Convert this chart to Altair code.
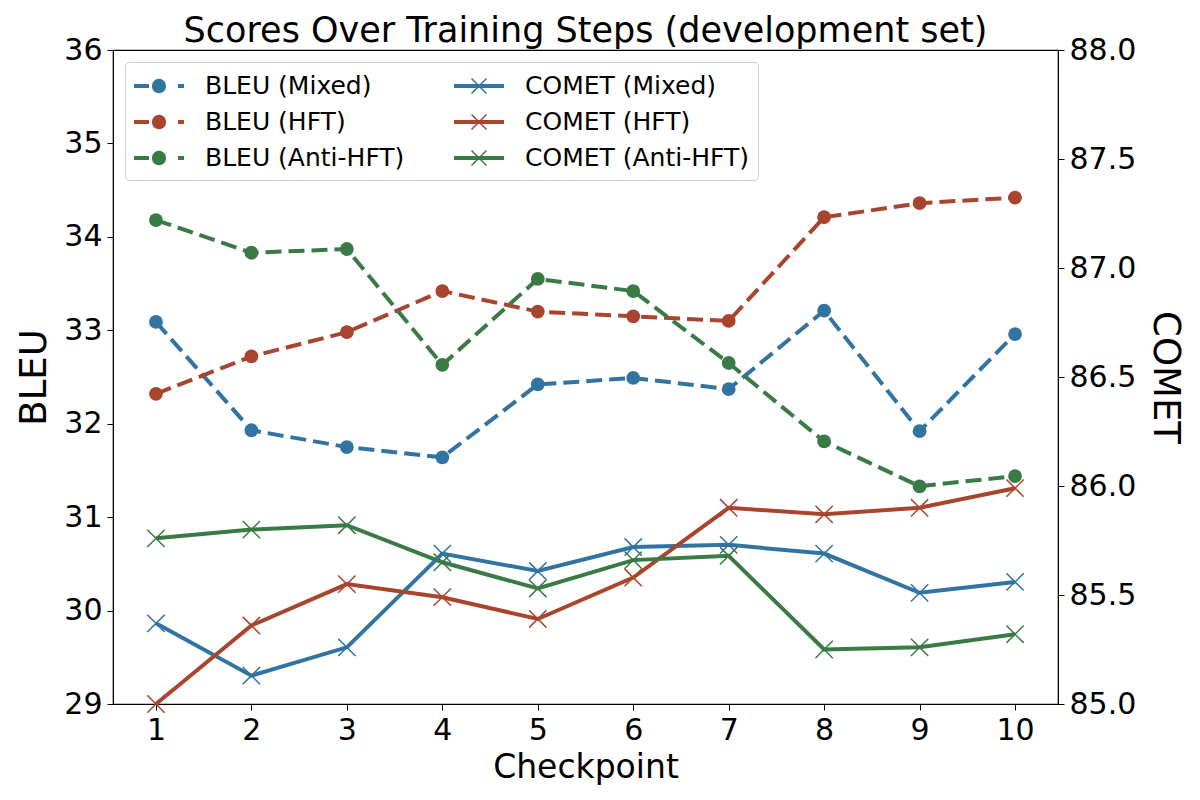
import altair as alt
import pandas as pd

checkpoints = [1, 2, 3, 4, 5, 6, 7, 8, 9, 10]

bleu_mixed = [33.09, 31.93, 31.75, 31.64, 32.42, 32.49, 32.37, 33.21, 31.92, 32.96]
bleu_hft = [32.32, 32.72, 32.98, 33.42, 33.20, 33.15, 33.10, 34.21, 34.36, 34.42]
bleu_anti = [34.18, 33.83, 33.87, 32.63, 33.55, 33.42, 32.65, 31.81, 31.33, 31.44]

comet_mixed = [85.37, 85.13, 85.26, 85.69, 85.61, 85.72, 85.73, 85.69, 85.51, 85.56]
comet_hft = [85.00, 85.36, 85.55, 85.49, 85.39, 85.58, 85.90, 85.87, 85.90, 85.99]
comet_anti = [85.76, 85.80, 85.82, 85.65, 85.53, 85.66, 85.68, 85.25, 85.26, 85.32]

bleu_names = ["BLEU (Mixed)", "BLEU (HFT)", "BLEU (Anti-HFT)"]
comet_names = ["COMET (Mixed)", "COMET (HFT)", "COMET (Anti-HFT)"]
legend_order = bleu_names + comet_names

BLUE, RED, GREEN = "#3274a1", "#a9452f", "#3a7a44"
series_colors = {"BLEU (Mixed)": BLUE, "BLEU (HFT)": RED, "BLEU (Anti-HFT)": GREEN,
                 "COMET (Mixed)": BLUE, "COMET (HFT)": RED, "COMET (Anti-HFT)": GREEN}

rows_b, rows_c = [], []
for name, vals in zip(bleu_names, [bleu_mixed, bleu_hft, bleu_anti]):
    for c, v in zip(checkpoints, vals):
        rows_b.append({"checkpoint": c, "value": v, "series": name})
for name, vals in zip(comet_names, [comet_mixed, comet_hft, comet_anti]):
    for c, v in zip(checkpoints, vals):
        rows_c.append({"checkpoint": c, "value": v, "series": name})
df_b = pd.DataFrame(rows_b)
df_c = pd.DataFrame(rows_c)

# line colour scale (domain order differs from the legend's on purpose)
line_names = comet_names + bleu_names
color_scale = alt.Scale(domain=line_names, range=[series_colors[n] for n in line_names])

FONT = "DejaVu Sans"
TICK_FS = 30
YTITLE_FS = 37

x_enc = alt.X("checkpoint:Q",
              scale=alt.Scale(domain=[0.55, 10.45], nice=False, zero=False),
              axis=alt.Axis(values=checkpoints, title="Checkpoint", format="d",
                            labelFontSize=TICK_FS, titleFontSize=33, titleFontWeight="normal",
                            grid=False, tickSize=6, tickColor="black", domainColor="black",
                            labelColor="black", titleColor="black", labelPadding=5,
                            titlePadding=6))

y_bleu = alt.Y("value:Q", scale=alt.Scale(domain=[29, 36], nice=False, zero=False),
               axis=alt.Axis(values=[29, 30, 31, 32, 33, 34, 35, 36], title="BLEU",
                             orient="left", labelFontSize=TICK_FS, titleFontSize=YTITLE_FS,
                             titleFontWeight="normal", grid=False, tickSize=6,
                             tickColor="black", domainColor="black", labelColor="black",
                             titleColor="black", labelPadding=5, titlePadding=10))
y_comet = alt.Y("value:Q", scale=alt.Scale(domain=[85, 88], nice=False, zero=False),
                axis=alt.Axis(values=[85.0, 85.5, 86.0, 86.5, 87.0, 87.5, 88.0], format=".1f",
                              title="COMET", orient="right", labelFontSize=TICK_FS,
                              titleFontSize=YTITLE_FS, titleFontWeight="normal", grid=False,
                              tickSize=6, tickColor="black", domainColor="black",
                              labelColor="black", titleColor="black", labelPadding=5,
                              titlePadding=10))

col = alt.Color("series:N", scale=color_scale, legend=None)

bleu_line = alt.Chart(df_b).mark_line(strokeWidth=4, strokeDash=[16, 7]).encode(
    x=x_enc, y=y_bleu, color=col, detail="series:N")
bleu_pts = alt.Chart(df_b).mark_point(shape="circle", filled=True, size=190, opacity=1).encode(
    x=x_enc, y=y_bleu, color=col)
bleu_layer = alt.layer(bleu_line, bleu_pts)

XPATH = "M-1,-1L1,1M-1,1L1,-1"
comet_line = alt.Chart(df_c).mark_line(strokeWidth=4).encode(
    x=x_enc, y=y_comet, color=col, detail="series:N")
comet_pts = alt.Chart(df_c).mark_point(shape=XPATH, filled=False, size=300, strokeWidth=1.5,
                                       opacity=1).encode(x=x_enc, y=y_comet, color=col)
comet_layer = alt.layer(comet_line, comet_pts)

# legend-only layer (no rows drawn): line+marker key symbols, 1 unit = 15 px,
# drawn from the entry's left edge (-1) to 50 px further right (2.333)
BLEU_SYM = ("M-1,-0.133H0V0.133H-1Z "
            "M0.2,0A0.467,0.467 0 1,0 1.133,0A0.467,0.467 0 1,0 0.2,0Z "
            "M1.933,-0.133H2.333V0.133H1.933Z")
COMET_SYM = ("M-1,-0.133H2.333V0.133H-1Z "
             "M0.133,-0.463L0.203,-0.533L1.2,0.463L1.13,0.533Z "
             "M1.13,-0.533L1.2,-0.463L0.203,0.533L0.133,0.463Z")
leg_df = pd.DataFrame({"series": legend_order})
legend_layer = alt.Chart(leg_df).transform_filter("false").mark_point(
    filled=True, opacity=1).encode(
    fill=alt.Fill("series:N",
                  scale=alt.Scale(domain=legend_order,
                                  range=[series_colors[n] for n in legend_order]),
                  legend=alt.Legend(title=None, orient="top-left", columns=2,
                                    labelFontSize=25, labelColor="black", labelLimit=500,
                                    symbolSize=900, symbolStrokeWidth=0,
                                    labelOffset=41, columnPadding=49, rowPadding=8,
                                    padding=9, offset=12, strokeColor="#cccccc",
                                    fillColor="white", cornerRadius=4,
                                    symbolOpacity=1)),
    shape=alt.Shape("series:N",
                    scale=alt.Scale(domain=legend_order,
                                    range=[BLEU_SYM, BLEU_SYM, BLEU_SYM,
                                           COMET_SYM, COMET_SYM, COMET_SYM]),
                    legend=alt.Legend(title=None)),
)

chart = alt.layer(bleu_layer, comet_layer, legend_layer).resolve_scale(
    y="independent", color="shared"
).properties(
    width=945, height=654,
    padding={"left": 7, "top": 6, "right": 5, "bottom": 5},
    title=alt.Title("Scores Over Training Steps (development set)", fontSize=35,
                    fontWeight="normal", color="black", font=FONT, offset=-14),
).configure(font=FONT).configure_view(stroke="black", strokeWidth=1.2)

chart.save("out.html", embed_options={"renderer": "svg", "actions": False})
